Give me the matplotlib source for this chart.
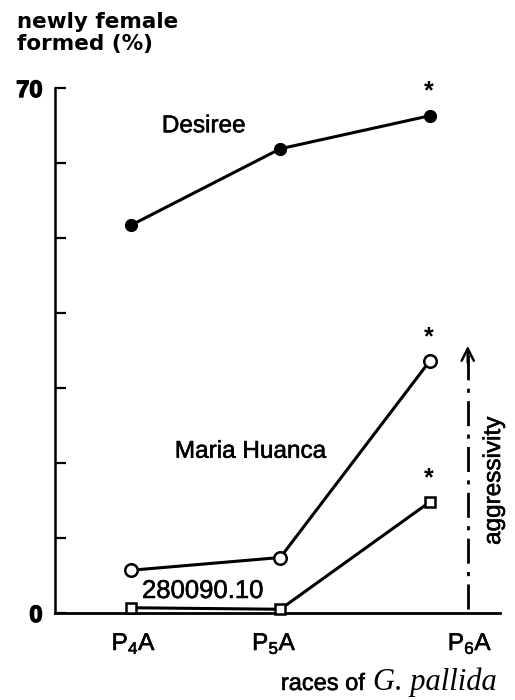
import numpy as np
import matplotlib
matplotlib.use('Agg')
import matplotlib.pyplot as plt
import matplotlib.patheffects as pe

plt.rcParams['font.family'] = ['Liberation Sans', 'DejaVu Sans']
plt.rcParams['mathtext.fontset'] = 'custom'
plt.rcParams['mathtext.rm'] = 'Liberation Sans'
plt.rcParams['mathtext.it'] = 'Liberation Sans:italic'

# races of G. pallida (x positions of points and of the labels)
races = ['P$_4$A', 'P$_5$A', 'P$_6$A']
race_x = [0, 1, 2]
label_x = [0.02, 0.96, 2.27]

# newly female formed (%)
desiree = [51.7, 61.9, 66.3]
maria_huanca = [5.7, 7.4, 33.6]
clone_280090 = [0.7, 0.5, 14.8]

yticks = [0, 10, 20, 30, 40, 50, 60, 70]
ytick_labels = ['0', '', '', '', '', '', '', '70']

# a bit heavier than regular, like the printed figure
thick = [pe.withStroke(linewidth=0.4, foreground='black')]
bold = [pe.withStroke(linewidth=1.0, foreground='black')]

fig = plt.figure(figsize=(5.15, 7.0), dpi=100)
ax = fig.add_axes([55/515, 1-613/700, 445/515, 525/700])

lw = 2.2
ax.plot(race_x, desiree, color='black', lw=lw, marker='o', ms=8.5,
        mfc='black', mec='black', clip_on=False, zorder=3)
ax.plot(race_x, maria_huanca, color='black', lw=lw, marker='o', ms=9,
        mfc='white', mec='black', mew=1.8, clip_on=False, zorder=3)
ax.plot(race_x, clone_280090, color='black', lw=lw, marker='s', ms=7.5,
        mfc='white', mec='black', mew=1.8, clip_on=False, zorder=3)

# significance stars at P6A
for vals in [desiree, maria_huanca, clone_280090]:
    ax.text(race_x[2] - 0.01, vals[2] + 1.6, '*', ha='center', va='bottom',
            fontsize=18, fontweight='bold')

# series labels
ax.text(0.207, 64.1, 'Desiree', fontsize=17.5, ha='left', va='baseline',
        path_effects=thick)
ax.text(0.294, 20.7, 'Maria Huanca', fontsize=17.5, ha='left', va='baseline',
        path_effects=thick)
ax.text(0.074, 2.0, '280090.10', fontsize=18.5, ha='left', va='baseline',
        path_effects=thick)

# aggressivity arrow
ax.plot([2.254, 2.254], [0.6, 34.5], color='black', lw=2.0,
        linestyle=(0, (9, 3, 1.5, 3)), zorder=2)
ax.annotate('', xy=(2.254, 36.0), xytext=(2.254, 33.0),
            arrowprops=dict(arrowstyle='->', color='black', lw=1.8,
                            mutation_scale=22))
ax.text(2.43, 17.6, 'aggressivity', rotation=90, fontsize=17.5,
        ha='center', va='center', path_effects=thick)

ax.set_xlim(-0.508, 2.47)
ax.set_ylim(0, 70)
ax.tick_params(axis='x', length=0, pad=13)
ax.tick_params(axis='y', direction='in', length=8, width=1.6, pad=9)
ax.set_xticks(label_x)
ax.set_xticklabels(races, fontsize=17.5, path_effects=thick)
ax.set_yticks(yticks)
ax.set_yticklabels(ytick_labels, fontsize=17, fontweight='bold',
                   path_effects=bold)

for s in ['top', 'right']:
    ax.spines[s].set_visible(False)
ax.spines['left'].set_linewidth(1.8)
ax.spines['bottom'].set_linewidth(2.0)

# axis titles
fig.text(17/515, 1-12/700, 'newly female\nformed (%)', fontsize=15.5,
         fontweight='bold', family=['DejaVu Sans'], ha='left', va='top',
         linespacing=1.15)
fig.text(365/515, 1-690/700, 'races of', fontsize=17, ha='right',
         va='baseline', path_effects=thick)
fig.text(497/515, 1-690/700, 'G. pallida', fontsize=22, ha='right',
         va='baseline', family=['Liberation Serif'], style='italic')

fig.savefig('out.png', dpi=100)
